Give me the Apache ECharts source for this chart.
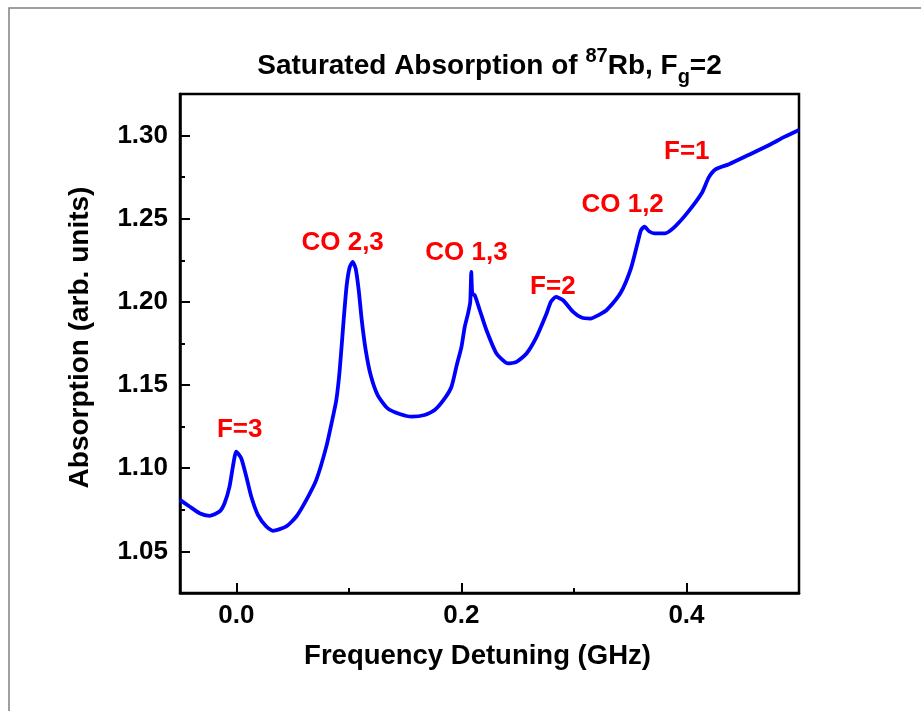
<!DOCTYPE html>
<html>
<head>
<meta charset="utf-8">
<script src="https://cdn.jsdelivr.net/npm/echarts@6/dist/echarts.min.js"></script>
<style>html,body{margin:0;padding:0;background:#fff}#c{width:921px;height:711px}</style>
</head>
<body>
<div id="c"></div>
<script>
// Frequency detuning (GHz)
const freq = [-0.050,-0.0415,-0.0326,-0.0238,-0.0149,-0.0104,-0.0060,-0.0030,0.000,0.0044,0.0089,0.0133,0.0192,0.0267,0.0325,0.0445,0.0534,0.0623,0.0711,0.0800,0.0859,0.0889,0.0919,0.0954,0.0981,0.1008,0.1034,0.1061,0.1088,0.1115,0.1150,0.1194,0.1256,0.1345,0.1452,0.1559,0.1674,0.1763,0.1852,0.1912,0.1959,0.2001,0.2030,0.2059,0.2079,0.2088,0.2097,0.2119,0.2164,0.2223,0.2312,0.2415,0.2490,0.2579,0.2668,0.2757,0.2795,0.2839,0.2904,0.2993,0.3068,0.3147,0.3231,0.3297,0.3418,0.3506,0.3568,0.3595,0.3627,0.3667,0.3717,0.3808,0.3898,0.4018,0.4138,0.4197,0.4258,0.4378,0.4556,0.4740,0.4870,0.5000];
// Absorption (arb. units)
const absorption = [1.081,1.077,1.073,1.0714,1.074,1.079,1.089,1.101,1.110,1.106,1.095,1.083,1.072,1.065,1.0624,1.065,1.071,1.081,1.093,1.113,1.131,1.141,1.159,1.189,1.210,1.221,1.224,1.220,1.207,1.189,1.171,1.156,1.144,1.136,1.1326,1.131,1.132,1.135,1.142,1.149,1.162,1.173,1.185,1.193,1.200,1.218,1.205,1.204,1.195,1.183,1.169,1.163,1.164,1.169,1.179,1.193,1.200,1.203,1.201,1.194,1.1906,1.190,1.1925,1.1955,1.2058,1.220,1.236,1.243,1.2453,1.2425,1.2412,1.2412,1.2453,1.2544,1.2656,1.2747,1.2797,1.2828,1.2885,1.2945,1.2992,1.3034];

// Peak annotations
const annoText = ['F=3','CO 2,3','CO 1,3','F=2','CO 1,2','F=1'];
const annoX = [0.003,0.0945,0.2045,0.2813,0.3433,0.4003];
const annoY = [1.123,1.2358,1.2298,1.2088,1.2586,1.2903];

// Ticks
const xMajorTicks = [0.0,0.2,0.4];
const xMinorTicks = [0.1,0.3];
const yMajorTicks = [1.05,1.10,1.15,1.20,1.25,1.30];
const yMinorTicks = [1.075,1.125,1.175,1.225,1.275];

const FONT = 'Arimo, "Liberation Sans", Arial, sans-serif';
const chart = echarts.init(document.getElementById('c'), null, {renderer:'canvas'});

const lineData = freq.map((x,i)=>[x, absorption[i]]);
const annoData = annoText.map((t,i)=>({value:[annoX[i], annoY[i]], name:t}));

const xMin=-0.05, xMax=0.5, yMin=1.025, yMax=1.325;

chart.setOption({
  animation:false,
  backgroundColor:'#fff',
  graphic:[
    {type:'rect', shape:{x:9,y:8,width:1200,height:1200}, style:{fill:'none', stroke:'#808080', lineWidth:1.5}, silent:true},
    {type:'text', x:489.5, y:66, silent:true,
     style:{
       text:'{a|Saturated Absorption of }{sup|87}{a|Rb, F}{sub|g}{a|=2}',
       align:'center', verticalAlign:'middle',
       rich:{
         a:{fontFamily:FONT, fontWeight:'bold', fontSize:28, fill:'#000'},
         sup:{fontFamily:FONT, fontWeight:'bold', fontSize:20, fill:'#000', padding:[0,0,20,0]},
         sub:{fontFamily:FONT, fontWeight:'bold', fontSize:20, fill:'#000', padding:[22,0,0,0]}
       }
     }}
  ],
  grid:{left:180, top:94, right:122, bottom:118, show:true, borderColor:'#000', borderWidth:2.5, backgroundColor:'transparent'},
  xAxis:[{
    type:'value', min:xMin, max:xMax, position:'bottom',
    name:'Frequency Detuning (GHz)', nameLocation:'middle', nameGap:49,
    nameTextStyle:{fontFamily:FONT, fontWeight:'bold', fontSize:27.5, color:'#000', padding:[0,24,0,0]},
    axisLine:{show:true, onZero:false, lineStyle:{color:'#000', width:2.5}},
    axisTick:{show:true, inside:true, length:10, lineStyle:{color:'#000', width:2}, customValues:xMajorTicks},
    axisLabel:{show:true, margin:10, customValues:xMajorTicks, formatter:v=>v.toFixed(1),
      fontFamily:FONT, fontWeight:'bold', fontSize:26, color:'#000'},
    splitLine:{show:false}
  },{
    type:'value', min:xMin, max:xMax, position:'bottom',
    axisLine:{show:false, onZero:false},
    axisTick:{show:true, inside:true, length:5, lineStyle:{color:'#000', width:2}, customValues:xMinorTicks},
    axisLabel:{show:false}, splitLine:{show:false}
  }],
  yAxis:[{
    type:'value', min:yMin, max:yMax, position:'left',
    name:'Absorption (arb. units)', nameLocation:'middle', nameGap:86, nameRotate:90,
    nameTextStyle:{fontFamily:FONT, fontWeight:'bold', fontSize:28, color:'#000', padding:[0,0,0,12]},
    axisLine:{show:true, onZero:false, lineStyle:{color:'#000', width:2.5}},
    axisTick:{show:true, inside:true, length:10, lineStyle:{color:'#000', width:2}, customValues:yMajorTicks},
    axisLabel:{show:true, margin:12, customValues:yMajorTicks, formatter:v=>v.toFixed(2),
      fontFamily:FONT, fontWeight:'bold', fontSize:26, color:'#000'},
    splitLine:{show:false}
  },{
    type:'value', min:yMin, max:yMax, position:'left',
    axisLine:{show:false, onZero:false},
    axisTick:{show:true, inside:true, length:5, lineStyle:{color:'#000', width:2}, customValues:yMinorTicks},
    axisLabel:{show:false}, splitLine:{show:false}
  }],
  series:[{
    type:'line', data:lineData, xAxisIndex:0, yAxisIndex:0,
    showSymbol:false, symbol:'none', smooth:0.2,
    lineStyle:{color:'#0000ff', width:3.8}, silent:true, z:3
  },{
    type:'scatter', data:annoData, xAxisIndex:0, yAxisIndex:0,
    symbolSize:1, itemStyle:{color:'#ffffff', opacity:1}, silent:true, z:4,
    label:{show:true, position:'inside', formatter:p=>p.name, opacity:1,
      fontFamily:FONT, fontWeight:'bold', fontSize:26, color:'#ff0000'}
  }]
});
</script>
</body>
</html>
